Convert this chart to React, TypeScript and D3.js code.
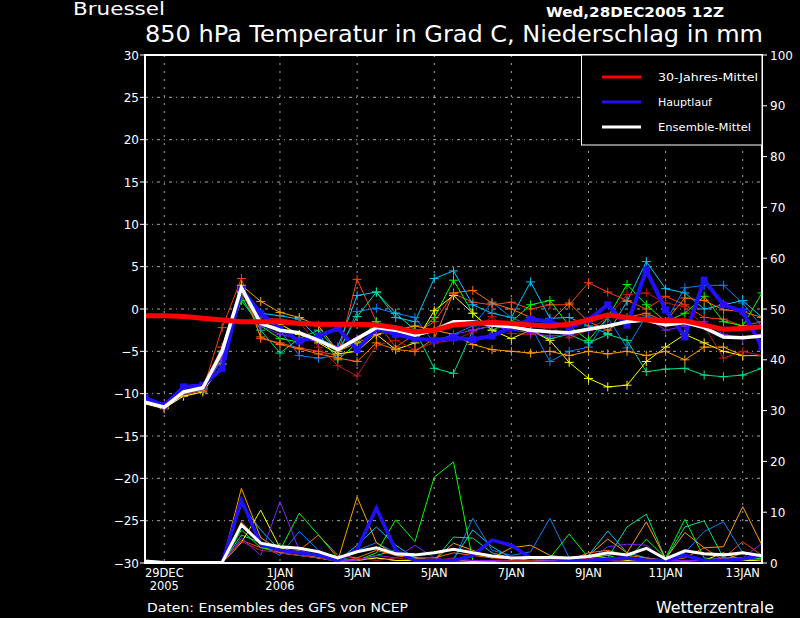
import React from "react";
import * as d3 from "d3";

// time steps: 12-hourly from 28DEC2005 12Z (index 0) to 13JAN2006 12Z (index 32)
const dateTicks = [1, 7, 11, 15, 19, 23, 27, 31];
const dateLabels = ["29DEC", "1JAN", "3JAN", "5JAN", "7JAN", "9JAN", "11JAN", "13JAN"];
const yearLabels = ["2005", "2006", "", "", "", "", "", ""];
const tempTicks = [30, 25, 20, 15, 10, 5, 0, -5, -10, -15, -20, -25, -30];
const precTicks = [0, 10, 20, 30, 40, 50, 60, 70, 80, 90, 100];

const memberColors = ["#ff4010", "#00c8ff", "#0080ff", "#00ff00", "#00e090", "#ffff00", "#ffa000", "#c01818", "#8020ff", "#ff7000"];

const tempM1 = [-11.2,-11.8,-10.2,-9.6,-2.2,3.6,-3.5,-4.0,-4.6,-5.0, -5.5,3.5,-1.5,-4.5,-3.0,-1.5,1.8,0.8,0.5,0.8, 0.0,0.5,0.5,3.1,2.0,1.0,0.0,1.5,0.5,-1.0, -1.2,-2.0,-1.5];
const tempM2 = [-11.0,-11.6,-9.8,-9.2,-5.2,2.0,-0.5,-0.8,-1.2,-3.5, -4.5,1.6,2.0,-1.0,-1.5,3.6,4.5,0.5,-0.5,-1.0, 3.2,-1.1,-1.0,-2.0,-2.9,0.9,5.6,2.4,1.9,0.0, 0.5,1.0,-1.0];
const tempM3 = [-11.0,-11.5,-9.9,-9.4,-6.0,1.8,-0.8,-2.5,-5.5,-5.8, -5.5,-0.3,0.1,-0.5,-1.0,-4.0,-3.0,-2.0,0.8,-1.0, -2.0,-6.2,-5.0,-4.5,-1.0,-4.6,-0.8,-1.5,2.5,2.8, 2.8,0.7,-2.1];
const tempM4 = [-11.1,-11.7,-10.0,-9.5,-5.5,1.0,-2.0,-3.5,-3.9,-3.0, -6.0,-4.0,-1.5,-3.0,-3.3,-1.0,3.4,-0.5,-2.5,-1.5, 0.5,1.0,-2.0,-3.7,-1.0,2.9,0.5,-1.5,-0.5,1.5, -1.5,-2.0,1.9];
const tempM5 = [-11.0,-11.6,-9.9,-9.4,-5.0,1.5,-2.5,-5.2,-3.5,-2.5, -5.0,-0.9,2.0,-0.5,-2.5,-7.0,-7.6,-2.5,-2.0,-2.0, -2.5,-3.5,-3.0,-4.0,-3.0,-3.7,-7.4,-7.1,-7.0,-7.8, -8.0,-7.8,-7.0];
const tempM6 = [-11.2,-11.7,-10.3,-9.8,-6.5,2.0,-1.5,-1.8,-3.0,-4.0, -5.3,-5.0,-3.0,-4.8,-4.0,-0.2,1.6,-0.5,-2.5,-3.5, -2.5,-3.7,-6.3,-8.2,-9.2,-9.0,-6.2,-4.5,-3.0,-4.0, -5.0,-5.5,-5.5];
const tempM7 = [-11.0,-11.6,-9.9,-9.3,-5.0,2.8,0.9,-0.4,-1.0,-2.0, -5.0,-4.0,-3.0,-2.5,-2.0,-2.5,-3.0,-4.2,-4.8,-5.0, -5.2,-5.0,-5.5,-5.0,-5.3,-5.0,-5.5,-5.0,-6.0,-4.5, -4.5,-5.5,-5.5];
const tempM8 = [-11.0,-11.5,-10.0,-9.3,-5.5,1.5,-1.0,-1.2,-1.5,-4.5, -6.7,-7.9,-4.3,-3.7,-4.8,-4.0,-3.7,-2.7,-0.9,-2.9, -3.0,-2.0,-3.4,-2.5,-1.0,1.7,1.9,0.7,0.3,-2.0, -5.8,-5.0,-5.5];
const tempM9 = [-11.1,-11.6,-10.0,-9.5,-5.8,2.2,-2.0,-3.0,-3.5,-3.8, -4.5,-3.5,-2.5,-2.8,-3.5,-3.8,-3.0,-2.5,-2.0,-2.5, -2.8,-3.2,-3.0,-2.5,-2.0,-1.5,-1.0,-2.5,-2.0,-1.5, -3.0,-3.5,-3.0];
const tempM10 = [-11.0,-11.5,-9.8,-9.2,-4.5,2.6,-3.3,-4.2,-4.7,-5.3, -5.8,-6.2,-4.0,-4.8,-5.0,-3.5,1.9,2.2,0.7,0.0, -1.0,-1.5,0.7,-1.5,-2.5,-1.0,-0.5,-1.5,1.3,1.0, -0.1,-0.3,-1.0];
const tempMain = [-10.5,-11.4,-9.2,-9.0,-7.0,2.3,-0.5,-2.3,-3.8,-3.2, -2.3,-4.8,-2.3,-3.0,-3.5,-3.7,-3.4,-3.6,-3.2,-2.2, -1.2,-1.5,-2.2,-1.3,0.5,-1.9,4.6,-0.1,-3.3,3.4, 0.5,-0.3,-4.5];
const tempMean = [-11.0,-11.6,-9.8,-9.3,-5.0,2.5,-1.7,-2.5,-2.8,-3.7, -4.8,-3.5,-2.2,-2.5,-3.1,-2.5,-1.5,-1.5,-1.9,-2.1, -2.5,-2.7,-2.8,-2.4,-2.0,-1.5,-1.3,-1.9,-1.6,-2.2, -3.3,-3.4,-3.2];
const tempClim = [-0.8,-0.8,-0.9,-1.1,-1.3,-1.5,-1.5,-1.5,-1.7,-1.8, -1.8,-1.8,-1.9,-2.2,-2.7,-2.5,-1.9,-1.7,-1.6,-1.7, -1.9,-2.0,-1.8,-1.3,-0.7,-1.0,-1.3,-1.4,-1.4,-1.9, -2.4,-2.3,-2.1];

const precM1 = [0.5,0,0,0,0,4.5,3.0,2.0,1.5,1.0, 0.5,0.8,1.0,0.5,0.5,0.5,0.5,0.3,0.5,0.5, 0.2,0.5,0.5,1.0,0.5,0.3,0.5,0.5,0.3,0.5, 1.0,4.2,1.5];
const precM2 = [0.3,0,0,0,0,11.5,6.5,2.5,2.0,1.5, 0.5,3.5,7.1,3.5,1.0,0.5,0.8,6.5,3.2,1.0, 0.5,1.0,0.5,1.5,6.3,2.0,1.0,0.5,0.5,0.5, 1.0,1.0,1.5];
const precM3 = [0.3,0,0,0,0,12.0,3.5,1.5,6.2,2.5, 0.5,2.5,4.0,2.0,1.0,0.3,0.5,8.8,2.5,1.5, 2.2,8.8,1.0,0.5,0.5,0.3,0.5,0.5,2.0,6.2, 8.1,2.0,1.5];
const precM4 = [0.2,0,0,0,0,6.5,3.0,2.5,9.8,5.5, 1.0,0.5,2.0,8.5,4.2,16.9,19.9,0.5,0.3,0.5, 0.5,1.0,5.7,1.0,1.5,0.5,4.7,1.0,8.6,1.0, 0.5,0.5,1.0];
const precM5 = [0.2,0,0,0,0,5.5,4.0,2.0,1.5,1.0, 0.3,0.5,1.5,2.5,1.0,0.5,5.1,4.9,2.0,1.0, 1.0,0.5,0.5,0.5,1.0,7.1,9.6,0.8,7.1,8.3, 1.0,0.5,0.8];
const precM6 = [0.2,0,0,0,0,4.0,10.4,3.0,2.0,1.0, 0.5,0.5,1.0,0.5,0.5,0.3,0.5,0.3,0.5,0.5, 0.5,0.5,0.5,1.5,1.0,0.5,0.5,0.5,0.5,0.5, 2.0,0.5,0.5];
const precM7 = [0.3,0,0,0,0,14.7,5.0,2.5,2.0,1.0, 0.5,13.0,4.0,1.5,1.0,0.5,3.9,2.5,1.0,3.0, 3.5,1.5,1.0,1.5,4.7,2.0,8.1,0.8,6.0,3.0, 3.2,11.1,3.5];
const precM8 = [0.5,0,0,0,0,4.2,2.5,2.0,1.5,1.0, 0.3,1.0,0.5,1.0,0.5,0.5,1.0,0.5,0.5,0.5, 0.5,0.3,0.5,0.5,0.5,0.3,0.5,0.3,0.5,0.5, 0.5,1.0,0.5];
const precM9 = [0.2,0,0,0,0,4.9,1.5,12.1,2.5,1.5, 0.5,0.5,1.5,1.0,3.5,1.0,0.3,0.5,0.5,0.3, 0.3,0.5,0.3,0.5,3.2,3.7,3.5,0.5,0.5,0.5, 1.0,1.0,3.9];
const precM10 = [0.3,0,0,0,0,8.1,4.0,2.0,2.5,5.5, 1.5,1.0,2.5,1.5,1.0,1.0,2.0,1.5,1.0,0.8, 1.0,0.8,0.5,2.0,2.5,1.5,1.0,0.5,1.0,3.0, 0.5,2.0,1.0];
const precMain = [0.3,0,0,0,0,12.4,3.7,2.5,2.0,1.5, 0.5,2.6,10.8,2.5,0.5,0.5,0.5,1.5,4.5,3.5, 1.0,1.0,0.5,0.5,0.8,1.0,0.5,0.5,1.5,0.5, 0.5,0.8,1.5];
const precMean = [0.4,0.1,0.1,0.1,0.1,7.5,3.9,3.2,2.9,2.2, 1.0,2.2,3.0,1.8,1.6,2.0,2.7,2.0,1.4,1.0, 1.1,1.1,1.0,1.3,2.0,1.6,2.9,0.8,2.4,1.8, 1.6,2.0,1.4];

const tempMembers = [tempM1, tempM2, tempM3, tempM4, tempM5, tempM6, tempM7, tempM8, tempM9, tempM10];
const precMembers = [precM1, precM2, precM3, precM4, precM5, precM6, precM7, precM8, precM9, precM10];

const legendItems = ["30-Jahres-Mittel", "Hauptlauf", "Ensemble-Mittel"];
const legendColors = ["#ff0000", "#2010ff", "#ffffff"];

const FONT = "DejaVu Sans, sans-serif";

export default function App() {
  const L = 145, R = 762, T = 55, B = 563;
  const x = d3.scaleLinear().domain([0, 32]).range([L, R]);
  const yT = d3.scaleLinear().domain([-30, 30]).range([B, T]);
  const yP = d3.scaleLinear().domain([0, 100]).range([B, T]);
  const lineT = d3.line<number>().x((_, i) => x(i)).y((d) => yT(d));
  const lineP = d3.line<number>().x((_, i) => x(i)).y((d) => yP(d));
  const fmt = d3.format("d");
  const grid = "#a8a8a8";

  return (
    <div style={{ position: "fixed", left: 0, top: 0, width: 800, height: 618, background: "#000" }}>
      <svg width={800} height={618} style={{ display: "block", background: "#000" }} fontFamily={FONT}>
        <defs>
          <clipPath id="plot">
            <rect x={L} y={T} width={R - L} height={B - T} />
          </clipPath>
        </defs>
        {/* titles */}
        <text x={73} y={15} fill="#fff" fontSize={17} textLength={92} lengthAdjust="spacingAndGlyphs">Bruessel</text>
        <text x={546} y={17} fill="#fff" fontSize={14} fontWeight="bold" textLength={178} lengthAdjust="spacingAndGlyphs">Wed,28DEC2005 12Z</text>
        <text x={145} y={42} fill="#fff" fontSize={23} textLength={618} lengthAdjust="spacingAndGlyphs">850 hPa Temperatur in Grad C, Niederschlag in mm</text>

        {/* grid */}
        {tempTicks.filter((t) => t !== 30 && t !== -30).map((t) => (
          <line key={"hg" + t} x1={L} x2={R} y1={yT(t)} y2={yT(t)} stroke={grid} strokeWidth={1} strokeDasharray="3,4,1,4" />
        ))}
        {dateTicks.map((d) => (
          <line key={"vg" + d} x1={x(d)} x2={x(d)} y1={T} y2={B} stroke={grid} strokeWidth={1} strokeDasharray="2,6" />
        ))}

        <g clipPath="url(#plot)">
          {/* precipitation members */}
          {precMembers.map((p, k) => (
            <path key={"pm" + k} d={lineP(p) || ""} fill="none" stroke={memberColors[k]} strokeWidth={1} />
          ))}
          <path d={lineP(precMain) || ""} fill="none" stroke={legendColors[1]} strokeWidth={3.5} />
          <path d={lineP(precMean) || ""} fill="none" stroke="#fff" strokeWidth={3} />

          {/* temperature members */}
          {tempMembers.map((t, k) => (
            <g key={"tm" + k}>
              <path d={lineT(t) || ""} fill="none" stroke={memberColors[k]} strokeWidth={1} />
              {t.map((v, i) => (
                <path key={i} d={`M${x(i) - 4.5},${yT(v)}h9M${x(i)},${yT(v) - 4.5}v9`} stroke={memberColors[k]} strokeWidth={1} />
              ))}
            </g>
          ))}
          <path d={lineT(tempMain) || ""} fill="none" stroke={legendColors[1]} strokeWidth={4} />
          {tempMain.map((v, i) => (
            <rect key={"mr" + i} x={x(i) - 3.5} y={yT(v) - 3.5} width={7} height={7} fill={legendColors[1]} />
          ))}
          <path d={lineT(tempMean) || ""} fill="none" stroke="#fff" strokeWidth={3.5} />
          <path d={lineT(tempClim) || ""} fill="none" stroke="#ff0000" strokeWidth={5} />
        </g>

        {/* frame */}
        <rect x={L} y={T} width={R - L} height={B - T} fill="none" stroke="#fff" strokeWidth={2} />

        {/* left axis */}
        {tempTicks.map((t) => (
          <g key={"lt" + t}>
            <line x1={L - 5} x2={L} y1={yT(t)} y2={yT(t)} stroke="#fff" strokeWidth={1} />
            <text x={L - 6} y={yT(t) + 4.5} fill="#fff" fontSize={12} textAnchor="end">{fmt(t)}</text>
          </g>
        ))}
        {/* right axis */}
        {precTicks.map((p) => (
          <g key={"rt" + p}>
            <line x1={R} x2={R + 5} y1={yP(p)} y2={yP(p)} stroke="#fff" strokeWidth={1} />
            <text x={R + 8} y={yP(p) + 4.5} fill="#fff" fontSize={12}>{fmt(p)}</text>
          </g>
        ))}
        {/* date axis */}
        {dateTicks.map((d, k) => (
          <g key={"dl" + d}>
            <text x={x(d)} y={577} fill="#fff" fontSize={11.5} textAnchor="middle">{dateLabels[k]}</text>
            {yearLabels[k] && (
              <text x={x(d)} y={589.5} fill="#fff" fontSize={11.5} textAnchor="middle">{yearLabels[k]}</text>
            )}
          </g>
        ))}

        {/* legend */}
        <rect x={581.5} y={T} width={R - 581.5} height={90} fill="#000" stroke="#fff" strokeWidth={1} />
        {legendItems.map((s, k) => (
          <g key={"lg" + k}>
            <line x1={602} x2={641} y1={77 + k * 25} y2={77 + k * 25} stroke={legendColors[k]} strokeWidth={3} />
            <text x={658} y={80.7 + k * 25} fill="#fff" fontSize={10.5} textLength={[100, 54, 93][k]} lengthAdjust="spacingAndGlyphs">{s}</text>
          </g>
        ))}

        {/* footer */}
        <text x={147} y={611.5} fill="#fff" fontSize={12} textLength={261} lengthAdjust="spacingAndGlyphs">Daten: Ensembles des GFS von NCEP</text>
        <text x={656} y={612.5} fill="#fff" fontSize={15} textLength={118} lengthAdjust="spacingAndGlyphs">Wetterzentrale</text>
      </svg>
    </div>
  );
}
